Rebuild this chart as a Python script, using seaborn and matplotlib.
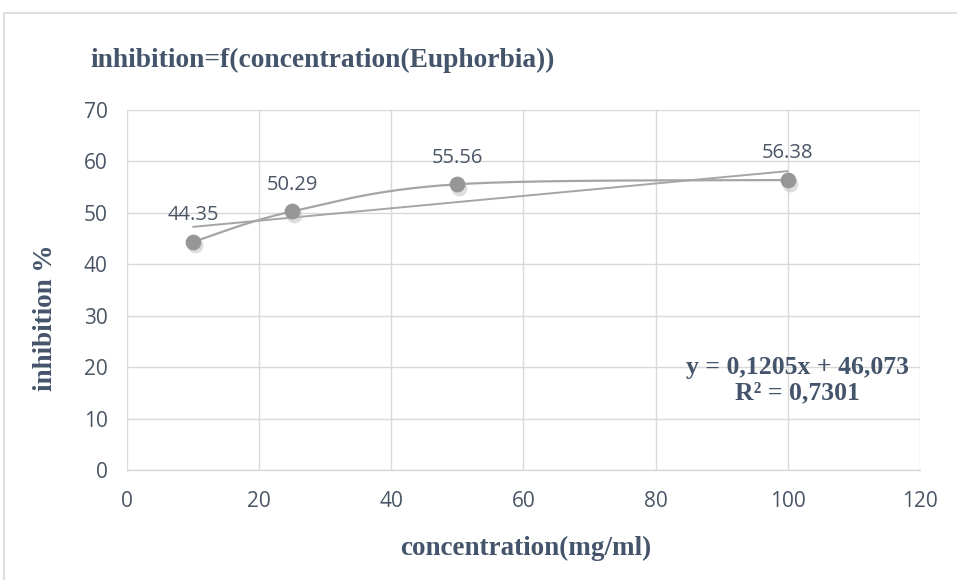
import matplotlib.pyplot as plt
import matplotlib.patches as patches
import matplotlib.transforms as mtransforms
import seaborn as sns
import pandas as pd
import numpy as np

# data
concentration = [10, 25, 50, 100]
inhibition = [44.35, 50.29, 55.56, 56.38]
point_labels = ['44.35', '50.29', '55.56', '56.38']
equation_text = 'y = 0,1205x + 46,073\nR² = 0,7301'

x_ticks = [0, 20, 40, 60, 80, 100, 120]
y_ticks = [0, 10, 20, 30, 40, 50, 60, 70]

df = pd.DataFrame({'concentration': concentration, 'inhibition': inhibition})

sns.set_style("whitegrid")
plt.rcParams['font.family'] = ['Open Sans', 'DejaVu Sans']

title_color = '#44546A'
tick_color = '#4A5566'
grey = '#A5A5A5'
serif = ['Liberation Serif', 'DejaVu Serif']


def smooth_curve(xs, ys, n=60):
    # excel-style smoothed line (bezier through the points)
    pts = np.column_stack([xs, ys]).astype(float)
    padded = np.vstack([pts[0], pts, pts[-1]])
    out = []
    t = np.linspace(0, 1, n)[:, None]
    for i in range(len(pts) - 1):
        p0, p1, p2, p3 = padded[i], padded[i + 1], padded[i + 2], padded[i + 3]
        c1 = p1 + (p2 - p0) / 6
        c2 = p2 - (p3 - p1) / 6
        seg = ((1 - t) ** 3) * p1 + 3 * ((1 - t) ** 2) * t * c1 + 3 * (1 - t) * t ** 2 * c2 + t ** 3 * p2
        out.append(seg)
    out = np.vstack(out)
    return out[:, 0], out[:, 1]


fig = plt.figure(figsize=(9.57, 5.8), dpi=100)
ax = fig.add_axes([0.1327, 0.1897, 0.8286, 0.6206])

# outer chart border
fig.patches.append(patches.Rectangle((4 / 957, -0.05), 1.0, 1 - 13 / 580 + 0.05,
                                     transform=fig.transFigure, fill=False,
                                     edgecolor='#D9D9D9', linewidth=1.2))

sx, sy = smooth_curve(concentration, inhibition)
ax.plot(sx, sy, color=grey, linewidth=1.6, zorder=3)

sns.regplot(data=df, x='concentration', y='inhibition', ax=ax, scatter=False,
            ci=None, truncate=True, line_kws={'color': grey, 'linewidth': 1.4, 'zorder': 3})

# marker shadow
shadow = mtransforms.offset_copy(ax.transData, fig=fig, x=1.5, y=-2.5, units='points')
ax.scatter(concentration, inhibition, s=130, color='#BDBDBD', alpha=0.5,
           transform=shadow, zorder=4, linewidth=0)
sns.scatterplot(data=df, x='concentration', y='inhibition', ax=ax, s=110,
                color='#969696', edgecolor='#969696', zorder=5)

for x, y, lab in zip(concentration, inhibition, point_labels):
    ax.annotate(lab, (x, y), xytext=(0, 12), textcoords='offset points',
                ha='center', va='bottom', fontsize=14.5, color=tick_color)

ax.text(0.846, 0.25, equation_text, transform=ax.transAxes, ha='center', va='center',
        fontsize=18.5, fontweight='bold', color=title_color, family=serif, linespacing=1.15)

ax.set_xlim(0, 120)
ax.set_ylim(0, 70)
ax.set_xticks(x_ticks)
ax.set_yticks(y_ticks)
ax.tick_params(axis='both', length=0, labelsize=15, labelcolor=tick_color)
ax.tick_params(axis='x', pad=15)
ax.tick_params(axis='y', pad=14)
ax.grid(True, color='#D9D9D9', linewidth=1)
for side in ['top', 'right', 'left']:
    ax.spines[side].set_visible(False)
ax.spines['bottom'].set_color('#D9D9D9')
ax.spines['bottom'].set_linewidth(1)

ax.set_xlabel('concentration(mg/ml)', fontsize=19.5, fontweight='bold', color=title_color,
              family=serif)
ax.set_ylabel('inhibition %', fontsize=19.5, fontweight='bold', color=title_color,
              family=serif)
ax.xaxis.set_label_coords(0.503, -0.217)
ax.xaxis.label.set_va('center')
ax.yaxis.set_label_coords(-0.103, 0.422)
ax.yaxis.label.set_va('center')

fig.text(90 / 957, 1 - 60 / 580, 'inhibition=f(concentration(Euphorbia))', ha='left', va='center',
         fontsize=19.8, fontweight='bold', color=title_color, family=serif)

plt.savefig('out.png', dpi=100)
plt.close()
